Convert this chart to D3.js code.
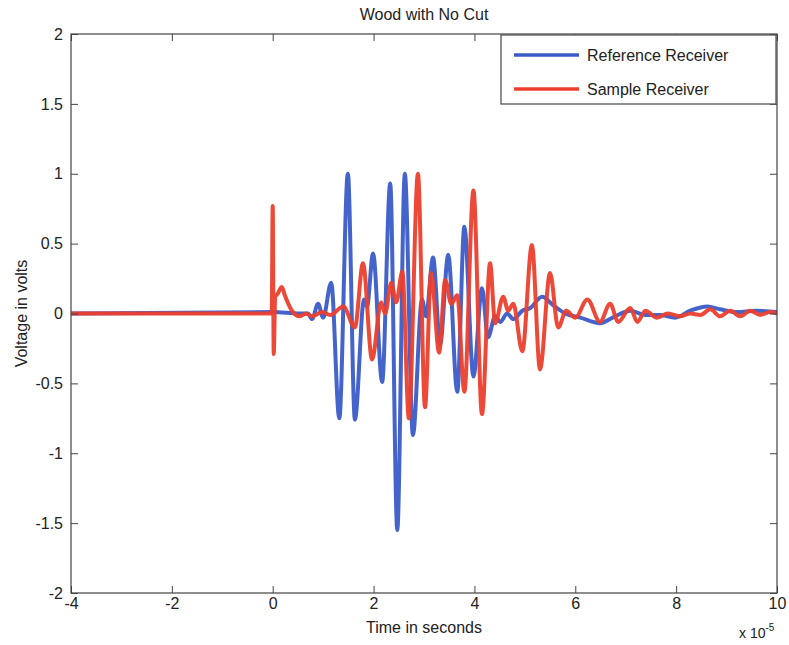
<!DOCTYPE html>
<html>
<head>
<meta charset="utf-8">
<script src="https://cdn.jsdelivr.net/npm/d3@7"></script>
<style>
  html, body { margin: 0; padding: 0; background: #ffffff; }
  svg { display: block; font-family: "Liberation Sans", Arial, sans-serif; }
</style>
</head>
<body>
<svg id="chart" width="789" height="645"></svg>
<script>
// Time values are in units of 1e-5 s (axis multiplier shown at lower right).
const refTime = [-4, 0.0, 0.54, 0.70, 0.78, 0.90, 1.00, 1.16, 1.32, 1.49, 1.63, 1.81, 1.87, 1.99, 2.17, 2.33, 2.47, 2.62, 2.78, 2.96, 3.04, 3.18, 3.32, 3.48, 3.66, 3.80, 3.98, 4.15, 4.27, 4.41, 4.51, 4.65, 4.77, 4.95, 5.11, 5.34, 5.56, 5.80, 6.10, 6.49, 6.79, 7.09, 7.39, 7.68, 7.98, 8.28, 8.62, 8.87, 9.21, 9.57, 10.0];
const refVolt = [0.0, 0.01, 0.0, 0.0, -0.04, 0.07, -0.03, 0.22, -0.75, 1.0, -0.76, 0.10, 0.05, 0.43, -0.49, 0.93, -1.55, 1.0, -0.87, 0.10, -0.02, 0.40, -0.22, 0.42, -0.56, 0.62, -0.45, 0.18, -0.17, -0.02, -0.06, 0.0, -0.04, 0.02, 0.04, 0.12, 0.06, 0.0, -0.03, -0.07, -0.02, 0.02, -0.01, -0.01, -0.03, 0.02, 0.05, 0.03, 0.01, 0.02, 0.01];

const sampleTime = [-4, -0.02, 0.0, 0.02, 0.05, 0.07, 0.18, 0.24, 0.38, 0.54, 0.66, 0.78, 0.98, 1.14, 1.40, 1.63, 1.79, 1.97, 2.15, 2.23, 2.35, 2.45, 2.57, 2.70, 2.88, 3.02, 3.14, 3.30, 3.42, 3.54, 3.66, 3.80, 3.98, 4.15, 4.31, 4.41, 4.57, 4.67, 4.77, 4.95, 5.14, 5.30, 5.50, 5.66, 5.82, 6.00, 6.24, 6.49, 6.69, 6.85, 7.09, 7.23, 7.39, 7.62, 7.84, 8.08, 8.28, 8.48, 8.68, 8.87, 9.07, 9.27, 9.47, 9.67, 9.86, 10.0];
const sampleVolt = [0.0, 0.0, 0.77, -0.29, 0.13, 0.13, 0.19, 0.13, 0.02, -0.02, 0.0, -0.02, 0.01, -0.01, 0.05, -0.10, 0.36, -0.33, 0.08, 0.0, 0.22, 0.08, 0.30, -0.75, 1.0, -0.67, 0.29, -0.28, 0.24, 0.07, 0.13, -0.56, 0.88, -0.72, 0.36, -0.07, 0.12, 0.02, 0.07, -0.27, 0.49, -0.40, 0.29, -0.10, 0.02, -0.03, 0.10, -0.06, 0.07, -0.06, 0.04, -0.06, 0.02, -0.03, 0.0, -0.02, 0.0, -0.01, 0.03, -0.02, 0.02, -0.02, 0.02, -0.01, 0.01, 0.0];

const xTicks = [-4, -2, 0, 2, 4, 6, 8, 10];
const yTicks = [-2, -1.5, -1, -0.5, 0, 0.5, 1, 1.5, 2];
const seriesNames = ["Reference Receiver", "Sample Receiver"];
const seriesColors = ["#3a5bc8", "#ec3f2e"];

const svg = d3.select("#chart");
const m = { left: 71, top: 34, right: 777, bottom: 593 };
const x = d3.scaleLinear().domain([-4, 10]).range([m.left, m.right]);
const y = d3.scaleLinear().domain([-2, 2]).range([m.bottom, m.top]);

const plot = svg.append("g");
plot.append("clipPath").attr("id", "clip")
  .append("rect").attr("x", m.left).attr("y", m.top)
  .attr("width", m.right - m.left).attr("height", m.bottom - m.top);

const line = d3.line()
  .x(d => x(d[0])).y(d => y(d[1]))
  .curve(d3.curveMonotoneX);

const series = [
  d3.zip(refTime, refVolt),
  d3.zip(sampleTime, sampleVolt)
];

series.forEach((pts, i) => {
  plot.append("path")
    .attr("clip-path", "url(#clip)")
    .attr("d", line(pts))
    .attr("fill", "none")
    .attr("stroke", seriesColors[i])
    .attr("stroke-width", 4)
    .attr("stroke-linejoin", "round")
    .attr("stroke-opacity", 0.95);
});

// Axes with inward ticks on all four sides
const tickLen = 7;
const fmt = d => String(d);
const axisStyle = g => {
  g.select(".domain").remove();
  g.selectAll(".tick line").attr("stroke", "#444").attr("stroke-width", 1);
  g.selectAll(".tick text").attr("fill", "#222").attr("font-size", 16)
    .attr("font-family", "'Liberation Sans', Arial, sans-serif");
};

svg.append("g").attr("transform", `translate(0,${m.bottom})`)
  .call(d3.axisBottom(x).tickValues(xTicks).tickFormat(fmt).tickSizeInner(-tickLen).tickSizeOuter(0).tickPadding(5))
  .call(axisStyle);
svg.append("g").attr("transform", `translate(0,${m.top})`)
  .call(d3.axisTop(x).tickValues(xTicks).tickFormat("").tickSizeInner(-tickLen).tickSizeOuter(0))
  .call(axisStyle);
svg.append("g").attr("transform", `translate(${m.left},0)`)
  .call(d3.axisLeft(y).tickValues(yTicks).tickFormat(fmt).tickSizeInner(-tickLen).tickSizeOuter(0).tickPadding(8))
  .call(axisStyle);
svg.append("g").attr("transform", `translate(${m.right},0)`)
  .call(d3.axisRight(y).tickValues(yTicks).tickFormat("").tickSizeInner(-tickLen).tickSizeOuter(0))
  .call(axisStyle);

// Frame
svg.append("rect")
  .attr("x", m.left).attr("y", m.top)
  .attr("width", m.right - m.left).attr("height", m.bottom - m.top)
  .attr("fill", "none").attr("stroke", "#444").attr("stroke-width", 1.2);

// Titles
svg.append("text").attr("x", (m.left + m.right) / 2).attr("y", 20)
  .attr("text-anchor", "middle").attr("font-size", 16).attr("fill", "#222")
  .text("Wood with No Cut");
svg.append("text").attr("x", (m.left + m.right) / 2).attr("y", 633)
  .attr("text-anchor", "middle").attr("font-size", 16).attr("fill", "#222")
  .text("Time in seconds");
svg.append("text")
  .attr("transform", `translate(27,${(m.top + m.bottom) / 2}) rotate(-90)`)
  .attr("text-anchor", "middle").attr("font-size", 16).attr("fill", "#222")
  .text("Voltage in volts");

// Axis multiplier
const mult = svg.append("text").attr("x", 739).attr("y", 638)
  .attr("font-size", 14).attr("fill", "#222");
mult.append("tspan").text("x 10");
mult.append("tspan").attr("dy", -7).attr("font-size", 10).text("-5");

// Legend
const lg = svg.append("g");
lg.append("rect").attr("x", 501).attr("y", m.top + 1)
  .attr("width", m.right - 501 - 1).attr("height", 69)
  .attr("fill", "#fff").attr("stroke", "#555").attr("stroke-width", 1.3);
seriesNames.forEach((name, i) => {
  const yy = 55 + i * 34;
  lg.append("line").attr("x1", 514).attr("x2", 579).attr("y1", yy).attr("y2", yy)
    .attr("stroke", seriesColors[i]).attr("stroke-width", 3.4);
  lg.append("text").attr("x", 587).attr("y", yy + 6)
    .attr("font-size", 16).attr("fill", "#222").text(name);
});
</script>
</body>
</html>
